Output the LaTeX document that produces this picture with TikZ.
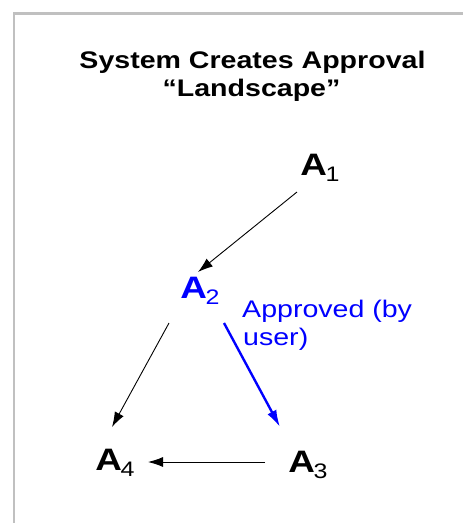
\documentclass[tikz,border=0pt]{standalone}
\usepackage{fontspec}
\setmainfont{Liberation Sans}[FakeStretch=1.19]
\usetikzlibrary{arrows.meta,calc}
\definecolor{framegray}{RGB}{192,192,192}
\definecolor{apblue}{RGB}{0,0,255}
\newcommand{\Anode}[1]{{\fontsize{31}{33}\selectfont\bfseries A}\kern-1.5pt\raisebox{-6pt}{\fontsize{21}{23}\selectfont #1}}
\begin{document}
\begin{tikzpicture}[x=1pt,y=-1pt,
  lbl/.style={inner sep=0pt, outer sep=0pt, anchor=base},
  ttl/.style={inner sep=0pt, anchor=base, font=\fontsize{24}{26}\selectfont\bfseries},
  note/.style={inner sep=0pt, anchor=base west, text=apblue, font=\fontsize{24}{26}\selectfont},
  conn/.style={draw=black, line width=0.9pt, -{Latex[length=15pt,width=10pt]}},
  approved/.style={draw=apblue, line width=2.4pt, -{Latex[length=17pt,width=10pt]}}]
\useasboundingbox[fill=white] (0,0) rectangle (463,523);
\draw[framegray, line width=2.2pt] (14,523) -- (14,13.5) -- (463,13.5);
\node[ttl] (t1) at (252.5,68) {System Creates Approval};
\node[ttl] (t2) at (251.5,96) {“Landscape”};
\node[lbl] (a1) at (320,175) {\Anode{1}};
\node[lbl, text=apblue] (a2) at (200,298) {\Anode{2}};
\node[lbl] (a3) at (308,472) {\Anode{3}};
\node[lbl] (a4) at (115,470) {\Anode{4}};
\node[note] (n1) at (242,317) {Approved (by};
\node[note] (n2) at (243,345) {user)};
\draw[conn] ($(a1.base)+(-23,17)$) -- ($(a2.base)+(-2,-26)$);
\draw[conn] ($(a2.base)+(-31,25)$) -- ($(a4.base)+(-3,-43)$);
\draw[approved] ($(a2.base)+(24,25)$) -- ($(a3.base)+(-28,-45)$);
\draw[conn] ($(a3.base)+(-43,-10)$) -- ($(a4.base)+(33,-8)$);
\end{tikzpicture}
\end{document}
